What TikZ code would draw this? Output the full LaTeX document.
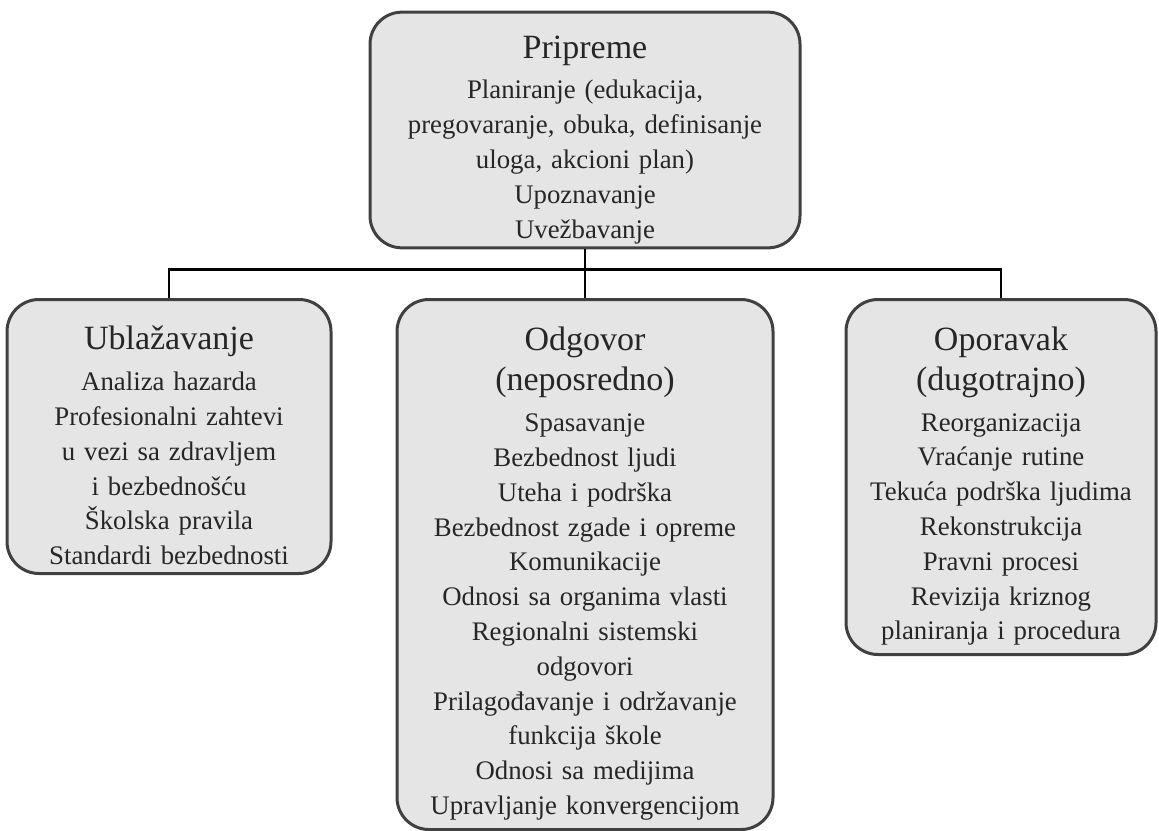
\documentclass[tikz,border=0pt]{standalone}
\usepackage{fontspec}
\setmainfont{Liberation Serif}
\tikzset{
	phase/.style={draw=black!75, fill=black!10, line width=1.5pt, rounded corners=16pt, align=center, text=black!85, inner xsep=5pt, inner ysep=2pt, font=\fontsize{13.4}{17.4}\selectfont},
}
\newcommand{\phasehead}[1]{{\fontsize{17}{20}\selectfont\rule{0pt}{21pt}#1\\[3pt]}}
\begin{document}
\begin{tikzpicture}[x=0.5pt, y=0.5pt, level distance=84pt, every child node/.style={anchor=north}, edge from parent/.style={draw, black, line width=1.3pt}, edge from parent path={(\tikzparentnode.south) -- ++(0,-20) -| (\tikzchildnode.north)}]
	\useasboundingbox (0,0) rectangle (1159,-830);
		\node[phase, text width=205pt, minimum height=117pt] (prep) at (585,-130) {\phasehead{Pripreme}Planiranje (edukacija,\\pregovaranje, obuka, definisanje\\uloga, akcioni plan)\\Upoznavanje\\Uvežbavanje}[sibling distance=208pt]
			child {node[phase, text width=152pt, minimum height=137pt] (mitig) {\phasehead{Ublažavanje}Analiza hazarda\\Profesionalni zahtevi\\u vezi sa zdravljem\\i bezbednošću\\Školska pravila\\Standardi bezbednosti}}
			child {node[phase, text width=178pt, minimum height=265pt] (resp) {\phasehead{Odgovor\\(neposredno)}Spasavanje\\Bezbednost ljudi\\Uteha i podrška\\Bezbednost zgade i opreme\\Komunikacije\\Odnosi sa organima vlasti\\Regionalni sistemski\\odgovori\\Prilagođavanje i održavanje\\funkcija škole\\Odnosi sa medijima\\Upravljanje konvergencijom}}
			child {node[phase, text width=145pt, minimum height=177.5pt] (recov) {\phasehead{Oporavak\\(dugotrajno)}Reorganizacija\\Vraćanje rutine\\Tekuća podrška ljudima\\Rekonstrukcija\\Pravni procesi\\Revizija kriznog\\planiranja i procedura}};
	\end{tikzpicture}
\end{document}
